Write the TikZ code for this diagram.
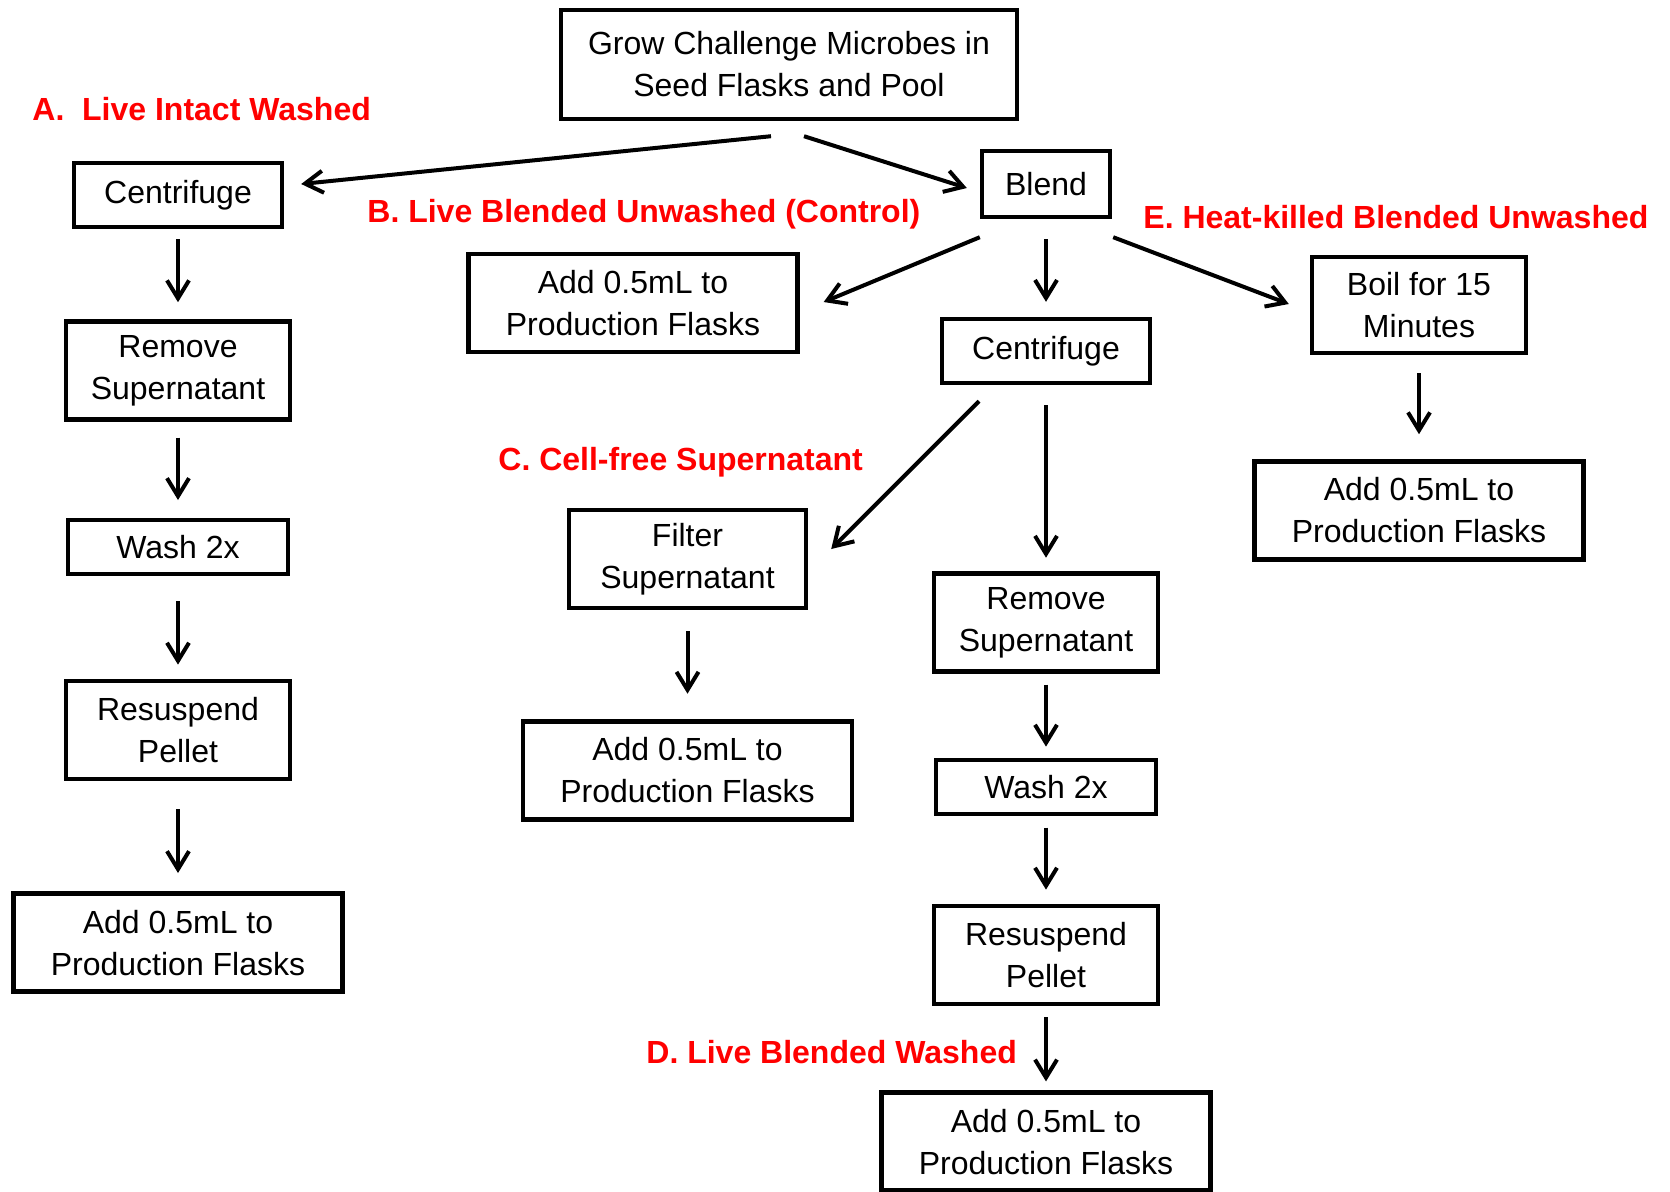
\documentclass[tikz,border=0pt]{standalone}
\usepackage{fontspec}
\setmainfont{Liberation Sans}
\usepackage{tikz}
\usetikzlibrary{arrows.meta, positioning}
\definecolor{labelred}{RGB}{255,0,0}
\definecolor{mydark}{RGB}{0,0,0}
\tikzset{
  stepbox/.style={rectangle, draw=mydark, fill=white, align=center,
    inner sep=0pt, line width=2.2pt, font=\fontsize{16}{21}\selectfont},
  addbox/.style={stepbox, minimum width=164.5pt, minimum height=49pt},
  tallbox/.style={stepbox, minimum width=112pt, minimum height=49pt},
  washbox/.style={stepbox, minimum width=110pt, minimum height=27pt},
  spinbox/.style={stepbox, minimum width=104pt, minimum height=32pt},
  grouplabel/.style={anchor=base west, inner sep=0pt, text=labelred,
    font=\fontsize{16}{21}\selectfont\bfseries},
  arrow/.style={-{Straight Barb[length=9pt,width=11pt]}, line width=2pt, color=mydark}
}
\begin{document}
\begin{tikzpicture}[x=0.5pt, y=-0.5pt]
  \useasboundingbox (0,0) rectangle (1670,1191);

  \node[stepbox, minimum width=228pt, minimum height=54.5pt] (grow) at (789,64.5) {Grow Challenge Microbes in\\Seed Flasks and Pool};

  % group labels
  \node[grouplabel] (labA) at (32,120) {A.\ \ Live Intact Washed};
  \node[grouplabel] (labB) at (367,222) {B. Live Blended Unwashed (Control)};
  \node[grouplabel] (labC) at (498,470.5) {C. Cell-free Supernatant};
  \node[grouplabel] (labD) at (646,1063) {D. Live Blended Washed};
  \node[grouplabel] (labE) at (1143,228) {E. Heat-killed Blended Unwashed};

  % A
  \node[spinbox] (spinA) at (178,195) {Centrifuge};
  \node[tallbox, below=45pt of spinA] (removeA) {Remove\\Supernatant};
  \node[washbox, below=48pt of removeA] (washA) {Wash 2x};
  \node[tallbox, below=51.5pt of washA] (resusA) {Resuspend\\Pellet};
  \node[addbox, below=55pt of resusA] (addA) {Add 0.5mL to\\Production Flasks};

  % B
  \node[stepbox, minimum width=64pt, minimum height=33pt] (blend) at (1046,184) {Blend};
  \node[addbox] (addB) at (633,303) {Add 0.5mL to\\Production Flasks};

  % C and D
  \node[spinbox] (spinB) at (1046,351) {Centrifuge};
  \node[stepbox, minimum width=118.5pt, minimum height=49pt] (filter) at (687.5,559) {Filter\\Supernatant};
  \node[addbox, below=54.5pt of filter] (addC) {Add 0.5mL to\\Production Flasks};
  \node[tallbox, below=93pt of spinB] (removeD) {Remove\\Supernatant};
  \node[washbox, below=42pt of removeD] (washD) {Wash 2x};
  \node[tallbox, below=44pt of washD] (resusD) {Resuspend\\Pellet};
  \node[addbox, below=42pt of resusD] (addD) {Add 0.5mL to\\Production Flasks};

  % E
  \node[stepbox, minimum width=107pt, minimum height=48pt] (boil) at (1419,305) {Boil for 15\\Minutes};
  \node[addbox, below=52pt of boil] (addE) {Add 0.5mL to\\Production Flasks};

  \draw[arrow] ([shift={(-18,15)}]grow.south) -- ([shift={(17,-11)}]spinA.east);
  \draw[arrow] ([shift={(15,15)}]grow.south) -- ([shift={(-13,4)}]blend.west);
  \draw[arrow] ([shift={(0,18)}]blend.south west) -- ([shift={(24,-1)}]addB.east);
  \draw[arrow] ([shift={(1,18)}]blend.south east) -- ([shift={(-21,-1)}]boil.west);
  \draw[arrow] ([shift={(-67,16)}]spinB.south) -- ([shift={(23,-10)}]filter.east);

  \draw[arrow, shorten <=5pt, shorten >=8.5pt] (spinA) -- (removeA);
  \draw[arrow, shorten <=8pt, shorten >=8.8pt] (removeA) -- (washA);
  \draw[arrow, shorten <=12.7pt, shorten >=7.2pt] (washA) -- (resusA);
  \draw[arrow, shorten <=14pt, shorten >=9.2pt] (resusA) -- (addA);

  \draw[arrow, shorten <=10pt, shorten >=7.5pt] (blend) -- (spinB);
  \draw[arrow, shorten <=10pt, shorten >=6.75pt] (spinB) -- (removeD);
  \draw[arrow, shorten <=5.5pt, shorten >=5.5pt] (removeD) -- (washD);
  \draw[arrow, shorten <=5.75pt, shorten >=7.2pt] (washD) -- (resusD);
  \draw[arrow, shorten <=5.5pt, shorten >=4.5pt] (resusD) -- (addD);

  \draw[arrow, shorten <=10.5pt, shorten >=12.75pt] (filter) -- (addC);
  \draw[arrow, shorten <=9pt, shorten >=12.5pt] (boil) -- (addE);
\end{tikzpicture}
\end{document}
